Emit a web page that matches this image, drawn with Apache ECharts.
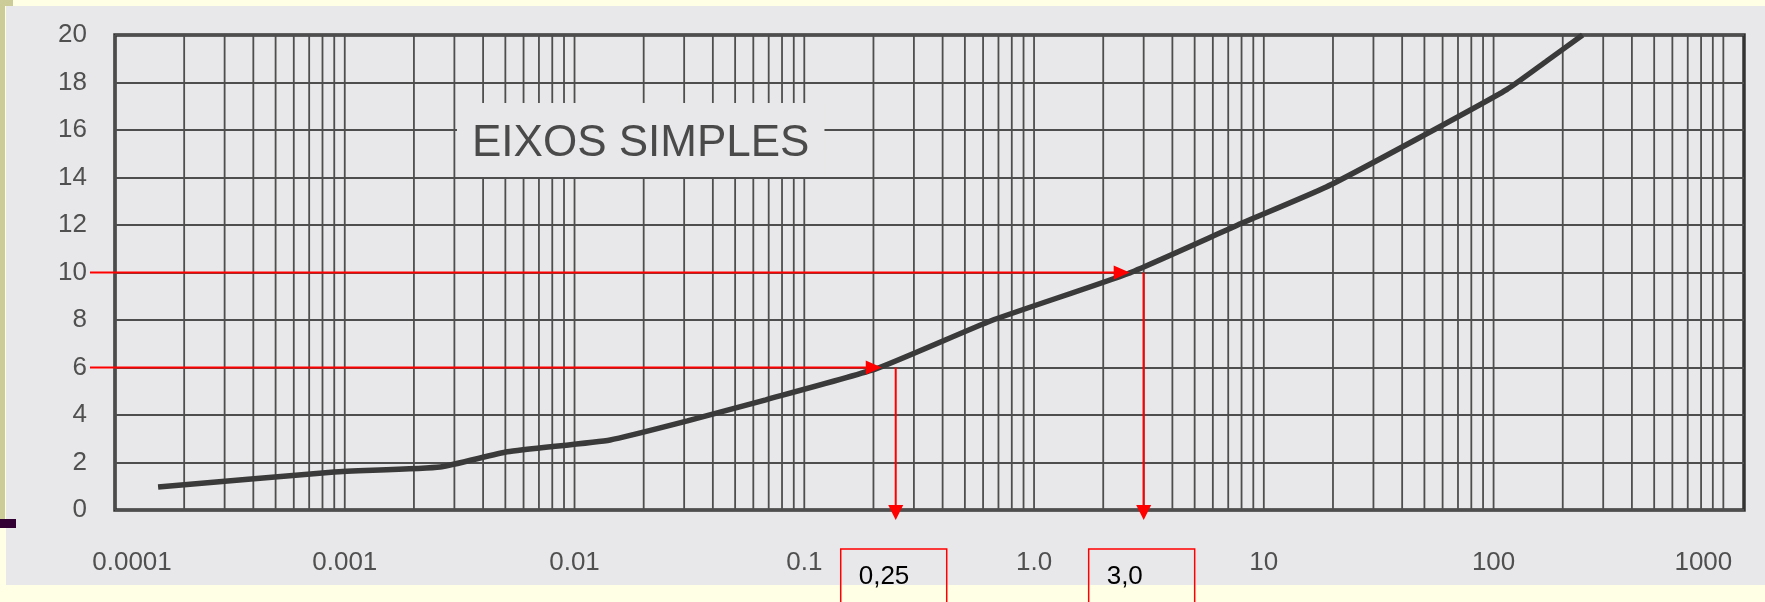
<!DOCTYPE html>
<html>
<head>
<meta charset="utf-8">
<script src="https://cdn.jsdelivr.net/npm/echarts@6/dist/echarts.min.js"></script>
<style>
  html, body { margin: 0; padding: 0; width: 1765px; height: 602px; overflow: hidden; background: #ffffe6; }
  #paper { position: absolute; left: 6px; top: 6px; width: 1759px; height: 579px; background: #e8e8ea; }
  #strip { position: absolute; left: 0; top: 0; width: 5px; height: 519px; background: #cccc99; }
  #corner { position: absolute; left: 0; top: 0; width: 13px; height: 6px; background: #cccc99; }
  #mark { position: absolute; left: 0; top: 519px; width: 16px; height: 9px; background: #330033; }
  #chart { position: absolute; left: 0; top: 0; width: 1765px; height: 602px; }
</style>
</head>
<body>
<div id="paper"></div>
<div id="strip"></div>
<div id="corner"></div>
<div id="mark"></div>
<div id="chart"></div>
<script>
// eixo x (log): décadas e rótulos
const xTicks = [0.0001, 0.001, 0.01, 0.1, 1, 10, 100, 1000];
const xTickLabels = ['0.0001', '0.001', '0.01', '0.1', '1.0', '10', '100', '1000'];
const xMax = 1230;
const gridMultipliers = [1, 2, 3, 4, 5, 6, 7, 8, 9];

const curveX = [0.000154, 0.0009, 0.0026, 0.0051, 0.0143, 0.031, 0.068, 0.206, 0.65, 2.57, 7.7, 18.7, 46, 114, 170, 244];
const curveY = [0.97, 1.6, 1.81, 2.45, 2.95, 3.75, 4.64, 5.95, 7.97, 9.96, 12.0, 13.6, 15.6, 17.7, 18.9, 20];

// leituras marcadas em vermelho
const readX = [0.25, 3.0];
const readY = [6, 10];
const readLabels = ['0,25', '3,0'];

const FONT = '"Liberation Sans", Arial, sans-serif';
const RED = '#ff0000';
const GRID_COLOR = '#4e4e4e';

// linhas verticais do papel log (1..9 em cada década)
const gridX = [];
xTicks.forEach(function (d) {
  if (d === 1000) { gridX.push(d); return; }
  gridMultipliers.forEach(function (m) { gridX.push(d * m); });
});

function tickLabel(v) {
  for (let i = 0; i < xTicks.length; i++) {
    if (Math.abs(Math.log10(v) - Math.log10(xTicks[i])) < 1e-6) {
      if (i === 0) return '{first|' + xTickLabels[i] + '}';
      if (i === xTicks.length - 1) return '{last|' + xTickLabels[i] + '}';
      return xTickLabels[i];
    }
  }
  return '';
}

function renderGridLine(params, api) {
  const top = api.coord([api.value(0), 20]);
  const bottom = api.coord([api.value(0), 0]);
  return {
    type: 'line',
    shape: { x1: top[0], y1: top[1], x2: bottom[0], y2: bottom[1] },
    style: { stroke: GRID_COLOR, lineWidth: 1.8 },
    silent: true
  };
}

function renderReading(params, api) {
  const i = params.dataIndex;
  const p = api.coord([api.value(0), api.value(1)]);
  const base = api.coord([api.value(0), 0])[1];
  const left = params.coordSys.x - 25;
  const tipX = p[0] - 14;
  return {
    type: 'group',
    children: [
      { type: 'line', shape: { x1: left, y1: p[1], x2: tipX - 12, y2: p[1] }, style: { stroke: RED, lineWidth: 2 } },
      { type: 'polygon', shape: { points: [[tipX, p[1]], [tipX - 16, p[1] - 7], [tipX - 16, p[1] + 7]] }, style: { fill: RED } },
      { type: 'line', shape: { x1: p[0], y1: p[1], x2: p[0], y2: base }, style: { stroke: RED, lineWidth: 2 } },
      { type: 'polygon', shape: { points: [[p[0], base + 10], [p[0] - 7.5, base - 5], [p[0] + 7.5, base - 5]] }, style: { fill: RED } },
      { type: 'rect', shape: { x: p[0] - 55, y: base + 39, width: 106, height: 80 }, style: { fill: 'none', stroke: RED, lineWidth: 1.5 } },
      { type: 'text', x: p[0] - 37, y: base + 67, style: { text: readLabels[i], fill: '#000', fontSize: 26, fontFamily: FONT, verticalAlign: 'middle' } }
    ]
  };
}

const chart = echarts.init(document.getElementById('chart'), null, { renderer: 'canvas' });

chart.setOption({
  animation: false,
  backgroundColor: 'transparent',
  title: {
    text: 'EIXOS SIMPLES',
    left: 457,
    top: 103,
    padding: [19, 15, 11, 15],
    backgroundColor: '#e8e8ea',
    z: 10,
    textStyle: { fontSize: 44, lineHeight: 44, fontWeight: 'normal', color: '#4a4a4a', fontFamily: FONT }
  },
  grid: {
    left: 115, right: 21, top: 35, bottom: 92,
    show: true, borderColor: '#333', borderWidth: 3.5, backgroundColor: 'transparent'
  },
  xAxis: {
    type: 'log',
    logBase: 10,
    min: 0.0001,
    max: xMax,
    interval: 1,
    axisLine: { show: false },
    axisTick: { show: false },
    splitLine: { show: false },
    axisLabel: {
      margin: 40,
      fontSize: 26,
      fontFamily: FONT,
      color: '#505050',
      formatter: tickLabel,
      rich: {
        first: { fontSize: 26, fontFamily: FONT, color: '#505050', padding: [0, 0, 0, 34] },
        last: { fontSize: 26, fontFamily: FONT, color: '#505050', padding: [0, 40, 0, 0] }
      }
    }
  },
  yAxis: {
    type: 'value',
    min: 0,
    max: 20,
    interval: 2,
    axisLine: { show: false },
    axisTick: { show: false },
    splitLine: { lineStyle: { color: GRID_COLOR, width: 1.8 } },
    axisLabel: { margin: 28, fontSize: 26, fontFamily: FONT, color: '#505050' }
  },
  series: [
    {
      name: 'papel',
      type: 'custom',
      silent: true,
      z: 1,
      data: gridX.map(function (v) { return [v, 0]; }),
      renderItem: renderGridLine
    },
    {
      name: 'curva',
      type: 'line',
      data: curveX.map(function (x, i) { return [x, curveY[i]]; }),
      symbol: 'none',
      smooth: 0.15,
      lineStyle: { color: '#3a3a3a', width: 5.5 },
      z: 5
    },
    {
      name: 'leituras',
      type: 'custom',
      clip: false,
      z: 6,
      data: readX.map(function (x, i) { return [x, readY[i]]; }),
      renderItem: renderReading
    }
  ]
});
</script>
</body>
</html>
